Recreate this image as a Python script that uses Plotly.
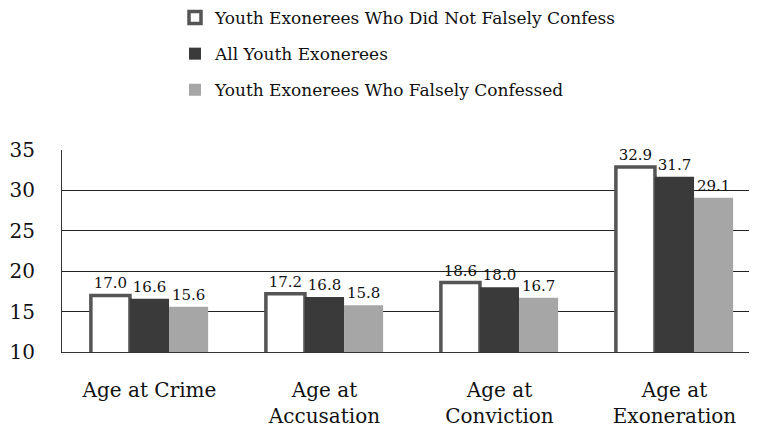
import plotly.graph_objects as go

categories = ["Age at Crime", "Age at<br>Accusation", "Age at<br>Conviction", "Age at<br>Exoneration"]
series_names = [
    "Youth Exonerees Who Did Not Falsely Confess",
    "All Youth Exonerees",
    "Youth Exonerees Who Falsely Confessed",
]
not_confessed = [17.0, 17.2, 18.6, 32.9]
all_youth = [16.6, 16.8, 18.0, 31.7]
confessed = [15.6, 15.8, 16.7, 29.1]
y_ticks = [10, 15, 20, 25, 30, 35]

FONT = "DejaVu Serif"
fills = ["#ffffff", "#3a3a3a", "#a6a6a6"]
lines = ["#555555", "#3a3a3a", "#a6a6a6"]
widths = [3.5, 0, 0]

fig = go.Figure()
for i, (name, vals) in enumerate(zip(series_names, [not_confessed, all_youth, confessed])):
    fig.add_trace(go.Bar(
        x=categories, y=vals, name=name, legendgroup=str(i),
        marker=dict(color=fills[i], line=dict(color=lines[i], width=widths[i])),
        text=[f"{v:.1f}" for v in vals], textposition="outside",
        textfont=dict(family=FONT, size=15, color="#111"),
        cliponaxis=False,
    ))

fig.update_layout(
    width=749, height=420,
    margin=dict(l=54, r=0, t=142, b=76),
    paper_bgcolor="white", plot_bgcolor="white",
    barmode="group", bargap=0.33, bargroupgap=0,
    font=dict(family=FONT, size=17, color="#111"),
    uniformtext=dict(mode=False),
    legend=dict(orientation="v", x=0.1626, xanchor="left", y=0.7619, yref="container",
                yanchor="bottom", font=dict(family=FONT, size=17, color="#111"),
                tracegroupgap=11, itemwidth=30, bgcolor="rgba(0,0,0,0)"),
    showlegend=True,
)
fig.update_yaxes(range=[10, 35], tickvals=y_ticks, showgrid=True, gridcolor="#222",
                 gridwidth=1, showline=True, linecolor="#333", linewidth=1,
                 ticks="", ticklabelstandoff=22, automargin=False,
                 tickfont=dict(family=FONT, size=20))
fig.update_xaxes(range=[-0.5, 3.4714], showline=True, linecolor="#333", linewidth=1,
                 ticks="", automargin=False,
                 tickfont=dict(family=FONT, size=20), ticklabelstandoff=20)

fig.write_html("out.html")
